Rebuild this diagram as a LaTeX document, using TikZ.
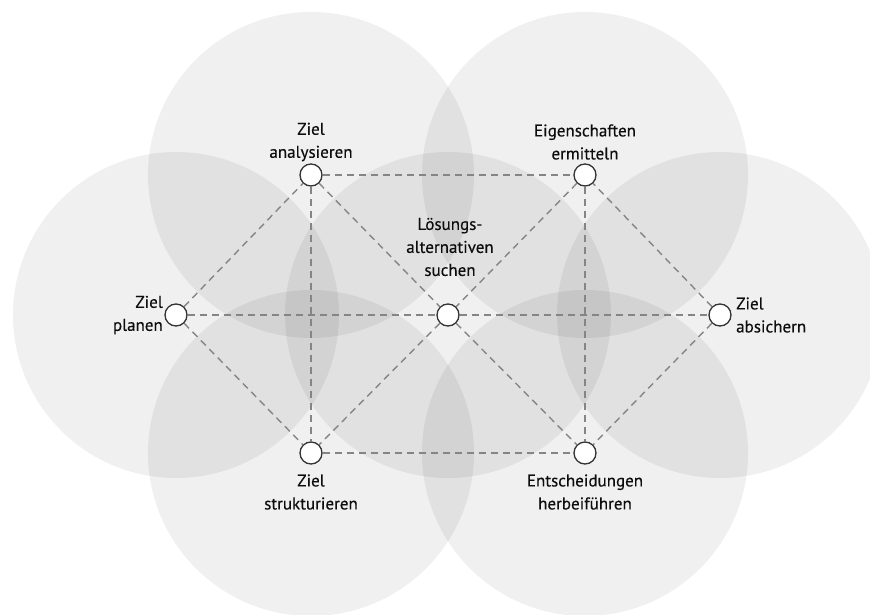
\documentclass[tikz,border=0pt]{standalone}
\usepackage{fontspec}
\setmainfont{PT Sans}
\newfontfamily\stagefont{PT Sans}[FakeBold=0.3]
\begin{document}
\begin{tikzpicture}[x=1pt,y=-1pt,
  zone/.style={fill=black,fill opacity=0.06,draw=none},
  link/.style={draw=black!48,line width=1.4pt,dash pattern=on 7pt off 5pt},
  stage/.style={circle,draw=black!80,fill=white,line width=1.3pt,minimum size=22pt,inner sep=0pt},
  lbl/.style={align=center,inner sep=0pt,text=black!95,font=\stagefont\fontsize{17}{23}\selectfont}]
\useasboundingbox (0,0) rectangle (870,615);
\fill[white] (0,0) rectangle (870,615);
% stage positions
\coordinate (pP) at (176,315);
\coordinate (pA) at (311,175);
\coordinate (pE) at (585,175);
\coordinate (pL) at (448,315);
\coordinate (pS) at (720,315);
\coordinate (pT) at (311,453);
\coordinate (pH) at (585,453);
% translucent zones around each stage
\begin{scope}
\clip (0,0) rectangle (870,615);
\foreach \c in {pP,pA,pE,pL,pS,pT,pH}
  \fill[zone] (\c) circle[radius=163];
\end{scope}
% stages
\node[stage] (plan) at (pP) {};
\node[stage] (ana) at (pA) {};
\node[stage] (eig) at (pE) {};
\node[stage] (loes) at (pL) {};
\node[stage] (sich) at (pS) {};
\node[stage] (str) at (pT) {};
\node[stage] (ent) at (pH) {};
% dashed connections
\draw[link] (ana) -- (eig);
\draw[link] (str) -- (ent);
\draw[link] (plan) -- (loes);
\draw[link] (loes) -- (sich);
\draw[link] (ana) -- (str);
\draw[link] (eig) -- (ent);
\draw[link] (plan) -- (ana);
\draw[link] (plan) -- (str);
\draw[link] (sich) -- (eig);
\draw[link] (sich) -- (ent);
\draw[link] (ana) -- (loes);
\draw[link] (loes) -- (ent);
\draw[link] (eig) -- (loes);
\draw[link] (loes) -- (str);
% labels
\node[lbl] (lana) at (311,142) {Ziel\\analysieren};
\node[lbl] (leig) at (585,142) {Eigenschaften\\ermitteln};
\node[lbl] (lloes) at (450,247) {Lösungs-\\alternativen\\suchen};
\node[lbl,anchor=east,align=right] (lplan) at (163,315) {Ziel\\planen};
\node[lbl,anchor=west,align=left] (lsich) at (736,315) {Ziel\\absichern};
\node[lbl] (lstr) at (311,492) {Ziel\\strukturieren};
\node[lbl] (lent) at (585,492) {Entscheidungen\\herbeiführen};
\end{tikzpicture}
\end{document}
